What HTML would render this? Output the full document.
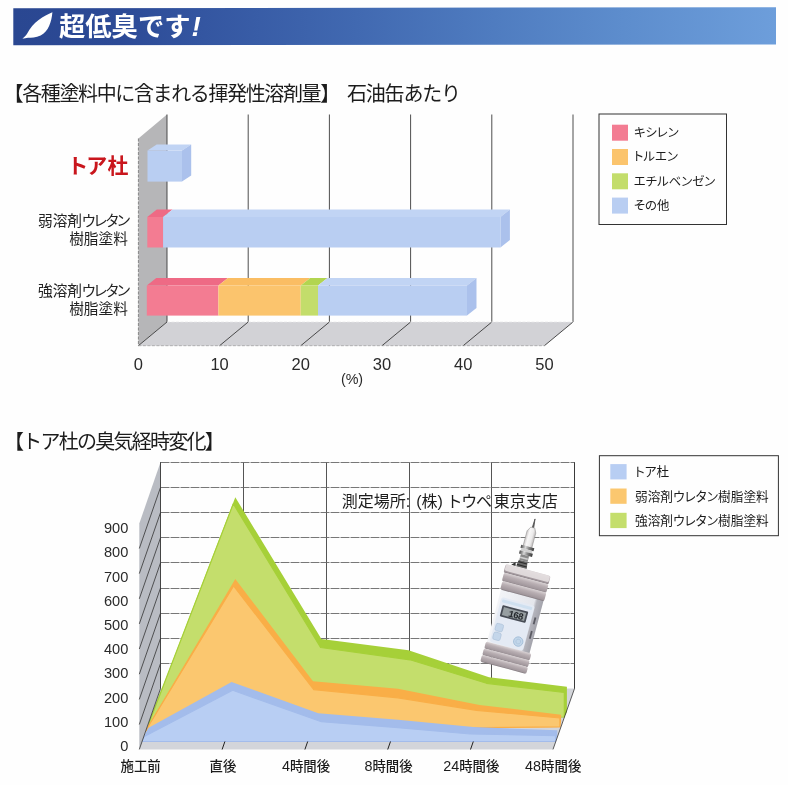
<!DOCTYPE html>
<html lang="ja">
<head>
<meta charset="utf-8">
<title>超低臭です!</title>
<style>
html,body{margin:0;padding:0;background:#fefefe;}
body{width:788px;height:785px;overflow:hidden;position:relative;font-family:"Liberation Sans","Noto Sans CJK JP",sans-serif;}
svg{position:absolute;left:0;top:0;display:block;}
text{font-family:"Liberation Sans","Noto Sans CJK JP",sans-serif;fill:#222;}
.jp{font-family:"Liberation Sans","Noto Sans CJK JP",sans-serif;}
.ttl{font-size:20px;fill:#1c1c1c;letter-spacing:-1.37px;}
.num{font-size:16.5px;fill:#2a2a2a;}
.lg{font-size:12.4px;fill:#1c1c1c;font-feature-settings:"palt";}
.lg2{font-size:12.7px;fill:#1c1c1c;font-feature-settings:"palt";}
.cat{font-size:13.4px;fill:#1c1c1c;font-weight:500;}
.lab{font-size:14.7px;fill:#222;font-feature-settings:"palt";}
</style>
</head>
<body>
<svg width="788" height="785" viewBox="0 0 788 785">
<defs>
<linearGradient id="ban" x1="0" y1="0" x2="1" y2="0">
<stop offset="0" stop-color="#2a4791"/>
<stop offset="0.14" stop-color="#2c4a96"/>
<stop offset="0.25" stop-color="#3456a1"/>
<stop offset="0.45" stop-color="#4169b1"/>
<stop offset="0.63" stop-color="#4f7cc0"/>
<stop offset="0.8" stop-color="#5d8dcd"/>
<stop offset="1" stop-color="#6d9edb"/>
</linearGradient>
</defs>

<g id="banner">
<polygon points="13.3,8.2 776,7.2 776,44.4 13.3,45.3" fill="url(#ban)"/>
<path d="M52.4,12.2 C44,15.5 32.5,22.5 27.2,33.6 C26,35.6 24.3,37.3 22.4,38.6 C24.5,38.5 26,37.9 28,37.8 C31,37.8 36,37.3 40.6,35.4 C48.5,31.5 51.5,22 52.4,12.2 Z" fill="#fff"/>
<text class="jp" x="59" y="36" font-size="26.3" font-weight="700" style="fill:#fff">超低臭です<tspan font-style="italic" dx="1" font-size="28" font-weight="700">!</tspan></text>
</g>

<g id="chart1">
<text class="jp ttl" x="3.5" y="101">【各種塗料中に含まれる揮発性溶剤量】</text>
<text class="jp ttl" x="347" y="101" style="letter-spacing:-1.2px">石油缶あたり</text>
<polygon points="167,114.5 138.4,138.5 138.4,345.7 167,322" fill="#b6b6b8"/>
<polygon points="167,322 573,322 544.4,345.7 138.4,345.7" fill="#d2d2d6"/>
<g stroke="#3a3a3a" stroke-width="0.9" fill="none">
<path d="M167.0,114.5 V322 L138.4,345.7"/>
<path d="M248.2,114.5 V322 L219.6,345.7"/>
<path d="M329.4,114.5 V322 L300.8,345.7"/>
<path d="M410.6,114.5 V322 L382.0,345.7"/>
<path d="M491.8,114.5 V322 L463.2,345.7"/>
<path d="M573.0,114.5 V322 L544.4,345.7"/>
</g>
<g stroke="#999" stroke-width="0.7" fill="none" stroke-dasharray="3 1.5">
<path d="M138.4,138.5 V345.7" stroke="#666"/>
<path d="M138.4,345.7 H544.4"/>
<path d="M167,322 H573" stroke="#e8e8ea"/>
</g>
<polygon points="147.5,150.6 156.7,144.4 191.2,144.4 182,150.6" fill="#c1d4f4"/>
<polygon points="182,150.6 191.2,144.4 191.2,175.4 182,181.6" fill="#abc1ec"/>
<rect x="147.5" y="150.6" width="34.5" height="31.0" fill="#b9cef2"/>
<polygon points="147.3,217 156.8,209.5 172.6,209.5 163.1,217" fill="#ee6a85"/>
<polygon points="163.1,217 172.6,209.5 509.9,209.5 500.4,217" fill="#c1d4f4"/>
<polygon points="500.4,217 509.9,209.5 509.9,240.0 500.4,247.5" fill="#abc1ec"/>
<rect x="147.3" y="217" width="15.8" height="30.5" fill="#f37c92"/>
<rect x="163.1" y="217" width="337.3" height="30.5" fill="#b9cef2"/>
<polygon points="146.8,285.5 156.3,278.0 227.9,278.0 218.4,285.5" fill="#ee6a85"/>
<polygon points="218.4,285.5 227.9,278.0 310.2,278.0 300.7,285.5" fill="#fabd63"/>
<polygon points="300.7,285.5 310.2,278.0 327.5,278.0 318,285.5" fill="#b2d550"/>
<polygon points="318,285.5 327.5,278.0 476.5,278.0 467,285.5" fill="#c1d4f4"/>
<polygon points="467,285.5 476.5,278.0 476.5,308.1 467,315.6" fill="#abc1ec"/>
<rect x="146.8" y="285.5" width="71.6" height="30.1" fill="#f37c92"/>
<rect x="218.4" y="285.5" width="82.3" height="30.1" fill="#fbc46d"/>
<rect x="300.7" y="285.5" width="17.3" height="30.1" fill="#c3dd6b"/>
<rect x="318" y="285.5" width="149.0" height="30.1" fill="#b9cef2"/>
<text class="num" x="138.4" y="369.5" text-anchor="middle">0</text>
<text class="num" x="219.6" y="369.5" text-anchor="middle">10</text>
<text class="num" x="300.8" y="369.5" text-anchor="middle">20</text>
<text class="num" x="382.0" y="369.5" text-anchor="middle">30</text>
<text class="num" x="463.2" y="369.5" text-anchor="middle">40</text>
<text class="num" x="544.4" y="369.5" text-anchor="middle">50</text>
<text class="num" x="352" y="383.8" text-anchor="middle" style="font-size:14.3px">(%)</text>
<text class="jp" x="67.2 86.2 107.6" y="173.2" font-weight="700" style="fill:#c9161d;font-size:21px">トア杜</text>
<text class="jp lab" x="128.9" y="225.6" text-anchor="end">弱溶剤<tspan letter-spacing="-1.3">ウレタン</tspan></text>
<text class="jp lab" x="127.9" y="244.4" text-anchor="end">樹脂塗料</text>
<text class="jp lab" x="128.9" y="295.6" text-anchor="end">強溶剤<tspan letter-spacing="-1.3">ウレタン</tspan></text>
<text class="jp lab" x="127.9" y="314" text-anchor="end">樹脂塗料</text>
<rect x="599" y="114" width="127.5" height="110.5" fill="#fefefe" stroke="#333" stroke-width="1"/>
<rect x="612" y="124.7" width="16" height="16" fill="#f37c92"/>
<text class="jp lg" x="633.8" y="137.0">キシレン</text>
<rect x="612" y="149.0" width="16" height="16" fill="#fbc46d"/>
<text class="jp lg" x="633.8" y="161.3">トルエン</text>
<rect x="612" y="173.3" width="16" height="16" fill="#c3dd6b"/>
<text class="jp lg" x="633.8" y="185.6">エチルベンゼン</text>
<rect x="612" y="197.6" width="16" height="16" fill="#b9cef2"/>
<text class="jp lg" x="633.8" y="209.9">その他</text>
</g>
<g id="chart2">
<text class="jp ttl" x="3.9" y="448.5" style="letter-spacing:-1.75px">【トア杜の臭気経時変化】</text>
<rect x="160.5" y="462.3" width="414.0" height="226.3" fill="#fefefe"/>
<polygon points="160.5,688.6 574.5,688.6 553,749.4 139.3,749.4" fill="#d3d5da"/>
<g stroke="#555" stroke-width="1" fill="none">
<path d="M160.5,462.3 V688.6"/>
<path d="M243.5,462.3 V688.6"/>
<path d="M326.5,462.3 V688.6"/>
<path d="M409.5,462.3 V688.6"/>
<path d="M491.5,462.3 V688.6"/>
<path d="M574.5,462.3 V688.6"/>
</g>
<g stroke="#686868" stroke-width="0.9" fill="none" stroke-dasharray="9 1">
<path d="M160.5,462.5 H574.5"/>
<path d="M160.5,487.5 H574.5"/>
<path d="M160.5,512.5 H574.5"/>
<path d="M160.5,537.5 H574.5"/>
<path d="M160.5,562.5 H574.5"/>
<path d="M160.5,588.5 H574.5"/>
<path d="M160.5,613.5 H574.5"/>
<path d="M160.5,638.5 H574.5"/>
<path d="M160.5,663.5 H574.5"/>
</g>
<polygon points="150.0,720.0 235.3,497.3 321.4,639.1 408.5,650.3 489.0,677.2 566.9,686.8 566.9,712.0 564.3,717.0 149.0,730.0" fill="#a6d038"/>
<polygon points="149.0,723.0 233.3,503.8 320.6,647.5 410.0,659.8 486.5,683.3 564.3,692.5 564.3,717.0 149.0,730.0" fill="#c4de6c" stroke="#a6d038" stroke-width="1.2" stroke-linejoin="round"/>
<polygon points="150.4,722.0 235.3,579.0 313.0,681.2 398.0,688.7 479.5,704.9 561.1,714.8 561.1,721.9 559.9,726.9 146.0,731.0" fill="#f9ae47"/>
<polygon points="149.4,724.5 233.6,586.0 313.8,689.6 398.0,697.8 476.5,710.3 559.9,718.0 559.9,726.9 146.0,731.0" fill="#fbc76f" stroke="#f9ae47" stroke-width="1.2" stroke-linejoin="round"/>
<polygon points="148.2,728.0 231.6,682.0 318.3,713.3 398.0,719.7 473.4,727.1 557.3,730.2 557.3,736.5 555.5,741.5 141.3,741.5" fill="#a3bceb"/>
<polygon points="144.3,736.5 232.7,690.3 321.4,721.7 398.0,727.7 470.3,734.0 555.5,735.6 555.5,741.5 141.3,741.5" fill="#b8cef3" stroke="#a3bceb" stroke-width="1.2" stroke-linejoin="round"/>
<polygon points="160.5,462.3 139.3,523.5 139.3,749.4 160.5,688.6" fill="#b9bcc3"/>
<g stroke="#333" stroke-width="0.8" fill="none">
<path d="M160.5,487.4 L139.3,548.5"/>
<path d="M160.5,512.6 L139.3,573.6"/>
<path d="M160.5,537.8 L139.3,598.8"/>
<path d="M160.5,562.9 L139.3,623.9"/>
<path d="M160.5,588.0 L139.3,649.0"/>
<path d="M160.5,613.2 L139.3,674.2"/>
<path d="M160.5,638.4 L139.3,699.4"/>
<path d="M160.5,663.5 L139.3,724.5"/>
<path d="M160.5,462.3 V688.6 L139.3,749.4"/>
<path d="M574.5,462.3 V688.6 L553,749.4"/>
</g>
<g stroke="#222" stroke-width="1" fill="none">
<path d="M224.9,741.5 l-2.8,8"/>
<path d="M307.7,741.5 l-2.8,8"/>
<path d="M390.5,741.5 l-2.8,8"/>
<path d="M473.3,741.5 l-2.8,8"/>
</g>
<defs>
<linearGradient id="rdg" x1="0" y1="0" x2="0" y2="1"><stop offset="0" stop-color="#d9d2d4"/><stop offset="0.35" stop-color="#b9afb3"/><stop offset="0.85" stop-color="#a1979c"/><stop offset="1" stop-color="#7f777c"/></linearGradient>
<linearGradient id="bdy" x1="0" y1="0" x2="1" y2="0"><stop offset="0" stop-color="#f3f4f7"/><stop offset="0.8" stop-color="#e4e6ec"/><stop offset="0.86" stop-color="#b4b4bc"/><stop offset="1" stop-color="#a3a3ab"/></linearGradient>
<linearGradient id="gls" x1="0" y1="0" x2="1" y2="0"><stop offset="0" stop-color="#c9c5c5"/><stop offset="0.3" stop-color="#f8f7f7"/><stop offset="0.7" stop-color="#ecebeb"/><stop offset="1" stop-color="#bdb9b9"/></linearGradient>
<linearGradient id="mtl" x1="0" y1="0" x2="1" y2="0"><stop offset="0" stop-color="#4a4a4a"/><stop offset="0.35" stop-color="#d8d8d8"/><stop offset="0.6" stop-color="#8a8a8a"/><stop offset="1" stop-color="#3a3a3a"/></linearGradient>
</defs>
<g id="device" transform="translate(505.8,563.9) rotate(15)">
<path d="M16.6,-51 L16.2,-42 L17.6,-42 Z" fill="#555" stroke="#555" stroke-width="0.8"/>
<path d="M14.6,-42 L18.8,-42 L21,-37.5 L21,-22 L12,-22 L12,-37.5 Z" fill="url(#gls)" stroke="#8d8d8d" stroke-width="0.5"/>
<rect x="10" y="-22.5" width="13.5" height="3.2" fill="url(#mtl)"/>
<rect x="11" y="-19.3" width="11.5" height="2.4" fill="#d0d0d0"/>
<rect x="10" y="-16.9" width="13.5" height="3.4" fill="url(#mtl)"/>
<rect x="12" y="-13.5" width="8.5" height="6" fill="#8a8a8a"/>
<path d="M10.5,-0.5 L11.5,-7.5 L20.5,-7.5 L21.5,-0.5 Z" fill="#6a6a6a"/><rect x="11.5" y="-6" width="9" height="1.2" fill="#2e2e2e"/><rect x="11" y="-3" width="10" height="1.2" fill="#2e2e2e"/><path d="M5.5,-0.5 L9,-4.5 L10,-0.5 Z" fill="#333"/>
<rect x="12" y="-11" width="8" height="1.6" fill="#cfcfcf"/>
<rect x="2" y="24" width="44" height="58" fill="url(#bdy)"/>
<rect x="4.5" y="33" width="34.5" height="46.5" rx="2.5" fill="#e4eaf4"/><rect x="6" y="35" width="31" height="3" rx="1" fill="#cfe0f0"/>
<rect x="7.6" y="40.5" width="26.6" height="11.6" rx="1" fill="#474c55"/>
<rect x="9.4" y="42.2" width="23" height="8.2" fill="#979fa2"/>
<text x="15.5" y="50" font-size="9.5" font-weight="700" style="fill:#23272b;font-family:'Liberation Mono',monospace" textLength="15.5">168</text>
<rect x="6.4" y="59.4" width="7.6" height="7.6" rx="1.8" fill="#c4d6ea" stroke="#a9bfd8" stroke-width="0.6"/>
<rect x="6.4" y="68.4" width="7.6" height="7.6" rx="1.8" fill="#c4d6ea" stroke="#a9bfd8" stroke-width="0.6"/>
<circle cx="32.1" cy="71.8" r="4.7" fill="#c2d6ea" stroke="#9fbad6" stroke-width="0.8"/>
<circle cx="32.1" cy="71.8" r="2.4" fill="none" stroke="#aac3dc" stroke-width="0.7"/>
<rect x="41.6" y="44" width="1.8" height="7" fill="#5a5a62"/>
<rect x="41.6" y="58" width="1.8" height="8" fill="#5a5a62"/>
<rect x="0" y="0" width="46.5" height="9" rx="2" fill="url(#rdg)"/><rect x="0.5" y="0.2" width="45.5" height="6.6" rx="2" fill="#e4dfe0" opacity="0.9"/>
<rect x="0.6" y="8.6" width="46" height="9" rx="2" fill="url(#rdg)"/>
<rect x="1.2" y="17.2" width="45.5" height="9" rx="2" fill="url(#rdg)"/>
<rect x="1" y="80" width="47" height="7.4" rx="2" fill="url(#rdg)"/>
<rect x="0.8" y="87" width="47.3" height="7.2" rx="2" fill="url(#rdg)"/>
<rect x="0.6" y="93.8" width="47.6" height="7.2" rx="2" fill="url(#rdg)"/>
</g>
<text class="num" x="128.3" y="533.1" text-anchor="end" style="font-size:14.6px">900</text>
<text class="num" x="128.3" y="557.3" text-anchor="end" style="font-size:14.6px">800</text>
<text class="num" x="128.3" y="581.5" text-anchor="end" style="font-size:14.6px">700</text>
<text class="num" x="128.3" y="605.7" text-anchor="end" style="font-size:14.6px">600</text>
<text class="num" x="128.3" y="629.9" text-anchor="end" style="font-size:14.6px">500</text>
<text class="num" x="128.3" y="654.1" text-anchor="end" style="font-size:14.6px">400</text>
<text class="num" x="128.3" y="678.3" text-anchor="end" style="font-size:14.6px">300</text>
<text class="num" x="128.3" y="702.5" text-anchor="end" style="font-size:14.6px">200</text>
<text class="num" x="128.3" y="726.7" text-anchor="end" style="font-size:14.6px">100</text>
<text class="num" x="128.3" y="750.9" text-anchor="end" style="font-size:14.6px">0</text>
<text class="jp cat" x="140.6" y="770.5" text-anchor="middle">施工前</text>
<text class="jp cat" x="223" y="770.5" text-anchor="middle">直後</text>
<text class="jp cat" x="306" y="770.5" text-anchor="middle"><tspan style="font-family:'Liberation Sans',sans-serif;font-size:14.4px;font-weight:400">4</tspan>時間後</text>
<text class="jp cat" x="388.5" y="770.5" text-anchor="middle"><tspan style="font-family:'Liberation Sans',sans-serif;font-size:14.4px;font-weight:400">8</tspan>時間後</text>
<text class="jp cat" x="471.3" y="770.5" text-anchor="middle"><tspan style="font-family:'Liberation Sans',sans-serif;font-size:14.4px;font-weight:400">24</tspan>時間後</text>
<text class="jp cat" x="553.2" y="770.5" text-anchor="middle"><tspan style="font-family:'Liberation Sans',sans-serif;font-size:14.4px;font-weight:400">48</tspan>時間後</text>
<text class="jp" x="341.8" y="507.1" style="font-size:16px;fill:#1c1c1c">測定場所:<tspan dx="6">(株)</tspan><tspan dx="3.5" letter-spacing="-1.2">トウペ</tspan><tspan dx="2.9">東京支店</tspan></text>
<rect x="599.4" y="455.7" width="179" height="80" fill="#fefefe" stroke="#333" stroke-width="1"/>
<rect x="610.3" y="464.1" width="16.3" height="15.3" fill="#b8cef3"/>
<text class="jp lg2" x="635" y="476.4">トア杜</text>
<rect x="610.3" y="488.5" width="16.3" height="15.3" fill="#fbc76f"/>
<text class="jp lg2" x="635" y="500.8">弱溶剤ウレタン樹脂塗料</text>
<rect x="610.3" y="512.8" width="16.3" height="15.3" fill="#c4de6c"/>
<text class="jp lg2" x="635" y="525.1">強溶剤ウレタン樹脂塗料</text>
</g>
</svg>
</body>
</html>
